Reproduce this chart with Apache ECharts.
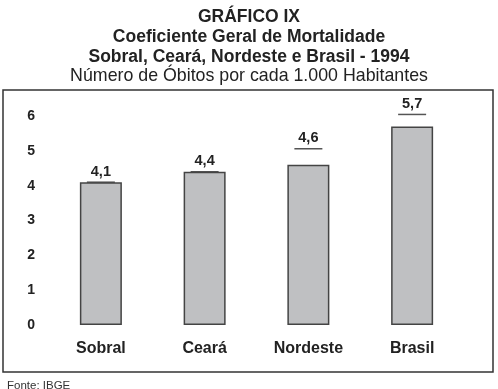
<!DOCTYPE html>
<html>
<head>
<meta charset="utf-8">
<script src="https://cdn.jsdelivr.net/npm/echarts@6/dist/echarts.min.js"></script>
<style>
  html, body { margin: 0; padding: 0; background: #fff; }
  #chart { width: 498px; height: 389px; }
</style>
</head>
<body>
<div id="chart"></div>
<script>
const categories = ['Sobral', 'Ceará', 'Nordeste', 'Brasil'];
const values = [4.1, 4.4, 4.6, 5.7];
const yTicks = [0, 1, 2, 3, 4, 5, 6];

// gap (px) between bar top and the underlined label, as in the original
const labelGap = [0, 0, 16, 12];

const chart = echarts.init(document.getElementById('chart'));

const fmt = v => v.toFixed(1).replace('.', ',');

const option = {
    animation: false,
    textStyle: { fontFamily: 'Liberation Sans, Arial, sans-serif' },
    title: [
        { text: 'GRÁFICO IX', left: 'center', top: 3.5,
          textStyle: { fontSize: 17.5, fontWeight: 'bold', color: '#222' } },
        { text: 'Coeficiente Geral de Mortalidade', left: 'center', top: 23.5,
          textStyle: { fontSize: 17.5, fontWeight: 'bold', color: '#222' } },
        { text: 'Sobral, Ceará, Nordeste e Brasil - 1994', left: 'center', top: 43,
          textStyle: { fontSize: 17.5, fontWeight: 'bold', color: '#222' } },
        { text: 'Número de Óbitos por cada 1.000 Habitantes', left: 'center', top: 62.5,
          textStyle: { fontSize: 17.8, fontWeight: 'normal', color: '#222' } },
        { text: 'Fonte: IBGE', left: 2, top: 375,
          textStyle: { fontSize: 11.5, fontWeight: 'normal', color: '#333' } }
    ],
    graphic: [{
        type: 'rect',
        shape: { x: 3, y: 90, width: 490, height: 282 },
        style: { fill: 'none', stroke: '#333', lineWidth: 1.5 },
        silent: true
    }],
    grid: { left: 49, right: 34, top: 116, bottom: 64 },
    xAxis: {
        type: 'category',
        data: categories,
        axisLine: { show: false },
        axisTick: { show: false },
        axisLabel: { margin: 16, fontSize: 16, fontWeight: 'bold', color: '#222' }
    },
    yAxis: {
        type: 'value',
        min: yTicks[0],
        max: yTicks[yTicks.length - 1],
        interval: 1,
        splitLine: { show: false },
        axisLine: { show: false },
        axisTick: { show: false },
        axisLabel: { margin: 14, fontSize: 14, fontWeight: 'bold', color: '#222' }
    },
    series: [
        {
            type: 'bar',
            data: values,
            barWidth: 42,
            itemStyle: { color: '#bfc0c2', borderColor: '#444', borderWidth: 1.5 }
        },
        {
            type: 'custom',
            data: values.map((v, i) => [i, v]),
            renderItem: function (params, api) {
                const i = api.value(0);
                const pt = api.coord([i, api.value(1)]);
                const lineY = pt[1] - labelGap[i];
                return {
                    type: 'group',
                    children: [
                        {
                            type: 'line',
                            shape: { x1: pt[0] - 14, y1: lineY, x2: pt[0] + 14, y2: lineY },
                            style: { stroke: '#555', lineWidth: 1.5 }
                        },
                        {
                            type: 'text',
                            style: {
                                x: pt[0], y: lineY - 3,
                                text: fmt(api.value(1)),
                                align: 'center', verticalAlign: 'bottom',
                                font: 'bold 14.5px Liberation Sans, Arial, sans-serif',
                                fill: '#222'
                            }
                        }
                    ]
                };
            }
        }
    ]
};

chart.setOption(option);
</script>
</body>
</html>
